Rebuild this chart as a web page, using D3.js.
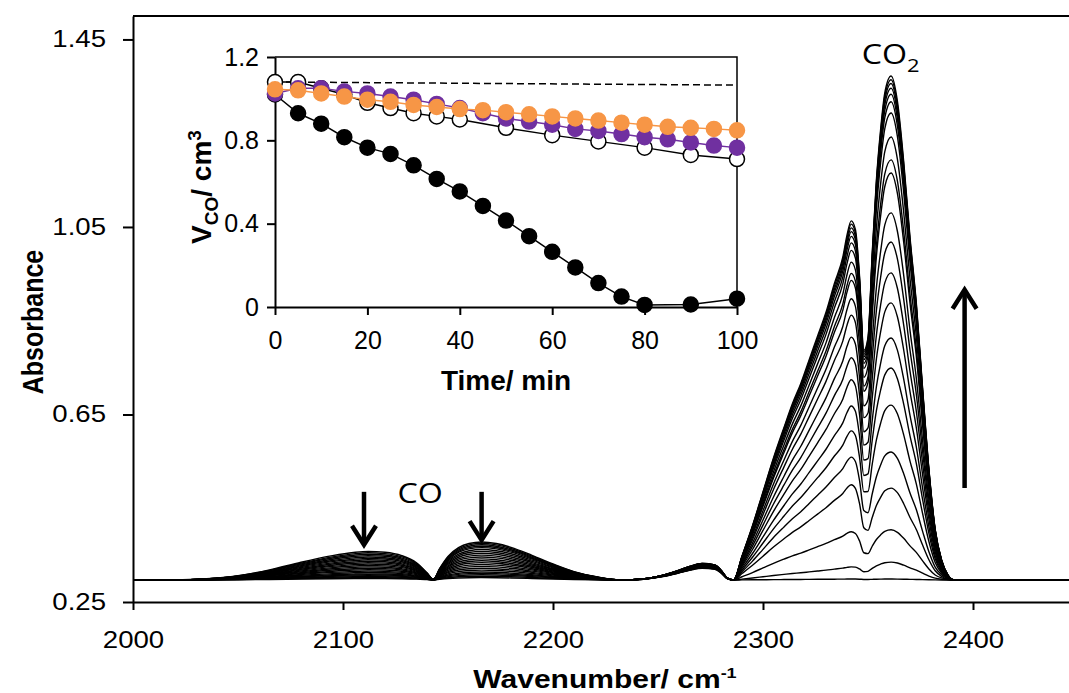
<!DOCTYPE html>
<html>
<head>
<meta charset="utf-8">
<script src="https://cdn.jsdelivr.net/npm/d3@7"></script>
<style>
  body { margin: 0; background: #fff; }
  text { font-family: "Liberation Sans", Arial, sans-serif; }
</style>
</head>
<body>
<script>
// FTIR spectra of CO oxidation with an inset of CO volume vs time

var width = 1069;
var height = 693;
var stretch = 1.2; // the main figure text is a bit wider than plain Arial

// ---- main chart data (absorbance) ----
var baseline = 0.297;
var xTicks = [2000, 2100, 2200, 2300, 2400];
var yTicks = [0.25, 0.65, 1.05, 1.45];

// spectra in time order: CO goes down, CO2 goes up
var coPPeak = [0.358, 0.355, 0.352, 0.349, 0.346, 0.343, 0.340, 0.337, 0.334, 0.331, 0.328, 0.325, 0.322, 0.319, 0.316, 0.313, 0.310, 0.308, 0.306, 0.304, 0.302, 0.300];
var coRPeak = [0.378, 0.375, 0.372, 0.369, 0.366, 0.362, 0.358, 0.354, 0.350, 0.346, 0.342, 0.338, 0.334, 0.330, 0.326, 0.322, 0.318, 0.314, 0.311, 0.308, 0.305, 0.302];
var humpPeak = [0.322, 0.323, 0.323, 0.324, 0.325, 0.325, 0.326, 0.327, 0.327, 0.328, 0.328, 0.329, 0.329, 0.330, 0.330, 0.330, 0.331, 0.331, 0.331, 0.332, 0.332, 0.332];
var co2PPeak = [0.299, 0.325, 0.400, 0.500, 0.559, 0.615, 0.668, 0.724, 0.771, 0.815, 0.862, 0.897, 0.936, 0.951, 0.975, 1.000, 1.016, 1.030, 1.040, 1.048, 1.056, 1.063];
var co2RPeak = [0.299, 0.335, 0.404, 0.493, 0.570, 0.670, 0.749, 0.813, 0.888, 0.952, 1.018, 1.080, 1.165, 1.193, 1.242, 1.293, 1.317, 1.333, 1.346, 1.356, 1.364, 1.372];

// band shapes (fraction of the peak height)
var coPWn    = [2020, 2035, 2050, 2065, 2080, 2095, 2105, 2112, 2120, 2128, 2135, 2140, 2143];
var coPShape = [0, 0.04, 0.15, 0.35, 0.62, 0.85, 0.96, 1.0, 0.97, 0.85, 0.6, 0.25, 0.02];
var coRWn    = [2146, 2150, 2155, 2160, 2166, 2173, 2180, 2190, 2200, 2210, 2220, 2230];
var coRShape = [0.3, 0.62, 0.85, 0.96, 1.0, 0.96, 0.86, 0.65, 0.42, 0.22, 0.09, 0.01];
var humpWn    = [2238, 2245, 2252, 2259, 2265, 2271, 2277, 2280, 2283];
var humpShape = [0.02, 0.1, 0.28, 0.55, 0.82, 1.0, 0.92, 0.6, 0.12];
var co2Wn     = [2286, 2290, 2295, 2300, 2305, 2310, 2314, 2318, 2322, 2326, 2330, 2334, 2338, 2340, 2342, 2344, 2346, 2348, 2350, 2352, 2354, 2356, 2358, 2361, 2364, 2367, 2370, 2373, 2376, 2379, 2382, 2385, 2388, 2391, 2395];
var co2PShape = [0, 0.07, 0.16, 0.26, 0.36, 0.45, 0.52, 0.58, 0.65, 0.72, 0.79, 0.86, 0.93, 0.98, 1.0, 0.93, 0.7, 0.35, 0.18, 0.1, 0.05, 0.02, 0.01, 0, 0, 0, 0, 0, 0, 0, 0, 0, 0, 0, 0];
var co2RShape = [0, 0, 0, 0, 0, 0, 0, 0, 0, 0, 0, 0.01, 0.015, 0.025, 0.04, 0.07, 0.13, 0.22, 0.36, 0.58, 0.76, 0.88, 0.96, 1.0, 0.95, 0.83, 0.68, 0.55, 0.38, 0.22, 0.1, 0.04, 0.01, 0, 0];

// ---- inset data ----
var insetXTicks = [0, 20, 40, 60, 80, 100];
var insetYTicks = [0, 0.4, 0.8, 1.2];
var blackT = [0, 5, 10, 15, 20, 25, 30, 35, 40, 45, 50, 55, 60, 65, 70, 75, 80, 90, 100];
var blackV = [1.02, 0.93, 0.88, 0.815, 0.765, 0.735, 0.68, 0.615, 0.555, 0.485, 0.415, 0.34, 0.265, 0.19, 0.115, 0.05, 0.01, 0.012, 0.04];
var openT = [0, 5, 10, 15, 20, 25, 30, 35, 40, 50, 60, 70, 80, 90, 100];
var openV = [1.08, 1.08, 1.05, 1.02, 0.98, 0.955, 0.93, 0.915, 0.9, 0.86, 0.825, 0.795, 0.765, 0.73, 0.71];
var colT = [0, 5, 10, 15, 20, 25, 30, 35, 40, 45, 50, 55, 60, 65, 70, 75, 80, 85, 90, 95, 100];
var purpleV = [1.025, 1.05, 1.05, 1.035, 1.025, 1.01, 0.995, 0.975, 0.955, 0.93, 0.905, 0.89, 0.875, 0.855, 0.845, 0.83, 0.815, 0.805, 0.79, 0.775, 0.765];
var orangeV = [1.045, 1.04, 1.025, 1.01, 0.995, 0.985, 0.97, 0.96, 0.95, 0.945, 0.935, 0.925, 0.915, 0.905, 0.895, 0.885, 0.875, 0.865, 0.86, 0.855, 0.848];
var dashT = [0, 100];
var dashV = [1.08, 1.065];

var svg = d3.select("body").append("svg")
    .attr("width", width)
    .attr("height", height);

var x = d3.scaleLinear().domain([2000, 2450]).range([133, 1078]);
var y = d3.scaleLinear().domain([0.25, 1.5]).range([602, 16]);

// build every spectrum from its peak heights and the band shapes
var spectra = [];
for (var i = 0; i < co2RPeak.length; i++) {
    var aCoP = coPPeak[i] - baseline;
    var aCoR = coRPeak[i] - baseline;
    var aHump = humpPeak[i] - baseline;
    var aR = co2RPeak[i] - baseline;
    var aP = co2PPeak[i] - baseline - 0.04 * aR;
    var pts = [[2000, baseline]];
    coPWn.forEach(function(w, k) { pts.push([w, baseline + aCoP * coPShape[k]]); });
    coRWn.forEach(function(w, k) { pts.push([w, baseline + aCoR * coRShape[k]]); });
    humpWn.forEach(function(w, k) { pts.push([w, baseline + aHump * humpShape[k]]); });
    co2Wn.forEach(function(w, k) { pts.push([w, baseline + aP * co2PShape[k] + aR * co2RShape[k]]); });
    pts.push([2450, baseline]);
    spectra.push(pts);
}

var line = d3.line()
    .x(function(d) { return x(d[0]); })
    .y(function(d) { return y(d[1]); })
    .curve(d3.curveMonotoneX);

svg.append("g").selectAll("path")
    .data(spectra)
    .enter().append("path")
    .attr("d", line)
    .attr("fill", "none")
    .attr("stroke", "#000")
    .attr("stroke-width", 1.4);

// axes
var xAxis = svg.append("g")
    .attr("transform", "translate(0,602)")
    .call(d3.axisBottom(x).tickValues(xTicks).tickSize(8).tickPadding(22).tickSizeOuter(0).tickFormat(d3.format("d")));
var yAxis = svg.append("g")
    .attr("transform", "translate(133,0)")
    .call(d3.axisLeft(y).tickValues(yTicks).tickSize(10).tickPadding(17).tickSizeOuter(0).tickFormat(d3.format(".2f")));
[xAxis, yAxis].forEach(function(g) {
    g.selectAll("path, line").attr("stroke", "#000").attr("stroke-width", 2);
    g.selectAll("text").attr("fill", "#000").style("font-size", "23px");
});
xAxis.selectAll("text").attr("transform", "scale(" + stretch + ",1)");
yAxis.selectAll("text").attr("x", -27 / stretch).attr("transform", "scale(" + stretch + ",1)");

svg.append("line")
    .attr("x1", 133).attr("x2", width)
    .attr("y1", 16).attr("y2", 16)
    .attr("stroke", "#000").attr("stroke-width", 2);

svg.append("text")
    .attr("transform", "translate(43,322) scale(" + stretch + ",1) rotate(-90)")
    .attr("text-anchor", "middle")
    .style("font-size", "25px").style("font-weight", "bold")
    .text("Absorbance");

var xt = svg.append("text")
    .attr("transform", "translate(605,688) scale(" + stretch + ",1)")
    .attr("text-anchor", "middle")
    .style("font-size", "25px").style("font-weight", "bold");
xt.append("tspan").text("Wavenumber/ cm");
xt.append("tspan").attr("dy", -10).style("font-size", "15px").text("-1");

// annotations
function arrow(wn, a0, a1) {
    var x0 = x(wn), y0 = y(a0), y1 = y(a1);
    var dir = y1 > y0 ? 1 : -1;
    svg.append("line")
        .attr("x1", x0).attr("x2", x0).attr("y1", y0).attr("y2", y1 - dir * 2)
        .attr("stroke", "#000").attr("stroke-width", 4.5);
    svg.append("path")
        .attr("d", "M" + (x0 - 12) + "," + (y1 - dir * 19) + "L" + x0 + "," + y1 + "L" + (x0 + 12) + "," + (y1 - dir * 19))
        .attr("fill", "none").attr("stroke", "#000").attr("stroke-width", 4.5);
}
arrow(2110, 0.485, 0.372);
arrow(2166, 0.485, 0.382);
arrow(2396, 0.493, 0.916);

svg.append("text")
    .attr("transform", "translate(" + x(2126) + "," + y(0.461) + ") scale(1.15,1)")
    .style("font-family", "'Open Sans', sans-serif").style("font-size", "28px")
    .text("CO");
var c2 = svg.append("text")
    .attr("transform", "translate(" + x(2347) + "," + y(1.398) + ") scale(1.15,1)")
    .style("font-family", "'Open Sans', sans-serif").style("font-size", "28px");
c2.append("tspan").text("CO");
c2.append("tspan").attr("dy", 8).style("font-size", "19px").text("2");

// ---- inset ----
var ix = d3.scaleLinear().domain([0, 100]).range([275, 737]);
var iy = d3.scaleLinear().domain([0, 1.2]).range([307, 57]);

svg.append("rect")
    .attr("x", 275).attr("y", 57).attr("width", 462).attr("height", 250)
    .attr("fill", "#fff");
svg.append("path")
    .attr("d", "M275,57H737V307")
    .attr("fill", "none").attr("stroke", "#000").attr("stroke-width", 1.5);

var ixAxis = svg.append("g")
    .attr("transform", "translate(0,307)")
    .call(d3.axisBottom(ix).tickValues(insetXTicks).tickSize(8).tickPadding(16).tickSizeOuter(0));
var iyAxis = svg.append("g")
    .attr("transform", "translate(275,0)")
    .call(d3.axisLeft(iy).tickValues(insetYTicks).tickSize(8).tickPadding(8).tickSizeOuter(0).tickFormat(function(d) { return d === 0 ? "0" : d3.format(".1f")(d); }));
[ixAxis, iyAxis].forEach(function(g) {
    g.selectAll("path, line").attr("stroke", "#000").attr("stroke-width", 2);
    g.selectAll("text").attr("fill", "#000").style("font-size", "25px");
});

var iline = d3.line()
    .x(function(d) { return ix(d[0]); })
    .y(function(d) { return iy(d[1]); });

svg.append("path")
    .datum(d3.zip(dashT, dashV))
    .attr("d", iline)
    .attr("fill", "none").attr("stroke", "#000").attr("stroke-width", 1.5)
    .attr("stroke-dasharray", "7,4");

function series(ts, vs, lineColor, fill, stroke) {
    var data = d3.zip(ts, vs);
    svg.append("path")
        .datum(data)
        .attr("d", iline)
        .attr("fill", "none").attr("stroke", lineColor).attr("stroke-width", 1.5);
    svg.append("g").selectAll("circle")
        .data(data)
        .enter().append("circle")
        .attr("cx", function(d) { return ix(d[0]); })
        .attr("cy", function(d) { return iy(d[1]); })
        .attr("r", 7.5)
        .attr("fill", fill)
        .attr("stroke", stroke)
        .attr("stroke-width", 1.5);
}
series(blackT, blackV, "#000", "#000", "#000");
series(openT, openV, "#000", "#fff", "#000");
series(colT, purpleV, "#7030A0", "#7030A0", "#7030A0");
series(colT, orangeV, "#F79646", "#F79646", "#F79646");

svg.append("text")
    .attr("x", 506).attr("y", 390)
    .attr("text-anchor", "middle")
    .style("font-size", "28px").style("font-weight", "bold")
    .text("Time/ min");

var vt = svg.append("text")
    .attr("transform", "translate(211,187) rotate(-90)")
    .attr("text-anchor", "middle")
    .style("font-size", "28px").style("font-weight", "bold");
vt.append("tspan").text("V");
vt.append("tspan").attr("dy", 7).style("font-size", "19px").text("CO");
vt.append("tspan").attr("dy", -7).text("/ cm");
vt.append("tspan").attr("dy", -10).style("font-size", "19px").text("3");
</script>
</body>
</html>
